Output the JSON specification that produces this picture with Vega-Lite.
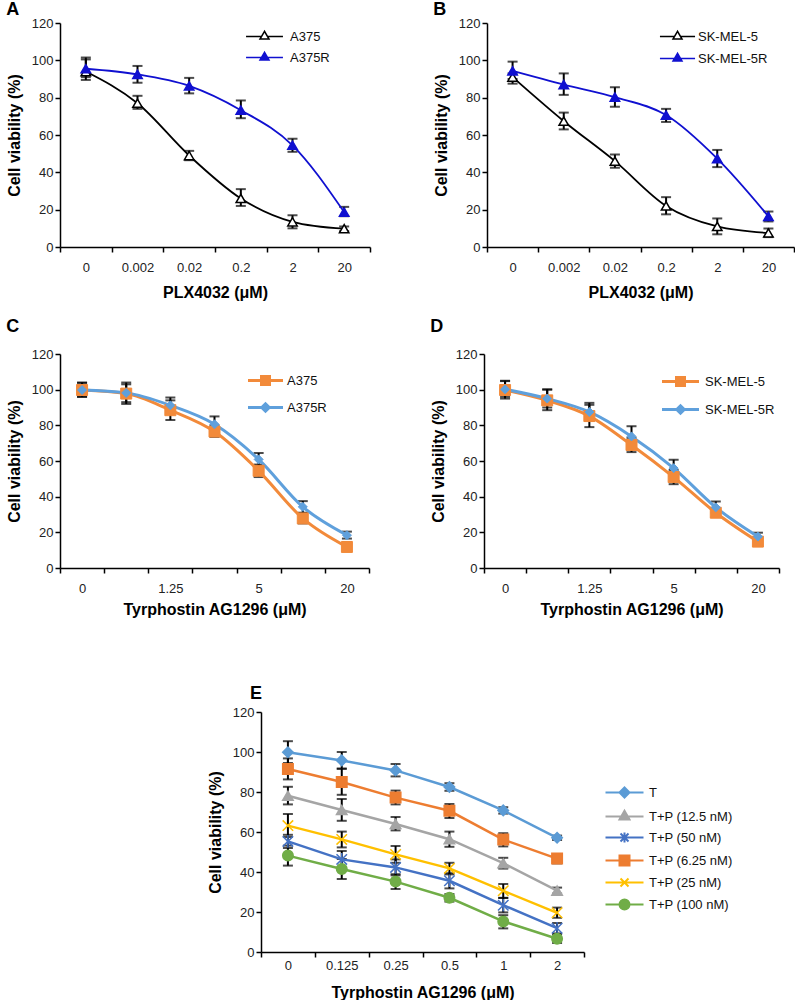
{
  "$schema": "https://vega.github.io/schema/vega-lite/v6.json",
  "padding": {"left": 6, "top": 1, "right": 0, "bottom": 0},
  "background": "white",
  "config": {
    "view": {"stroke": null},
    "font": "Liberation Sans",
    "axis": {"grid": false, "domainColor": "black", "domainWidth": 1.5, "tickColor": "black", "tickWidth": 1.5, "tickSize": 5, "labelFont": "Liberation Sans", "labelFontSize": 13, "labelColor": "#222", "titleFont": "Liberation Sans", "titleFontSize": 16, "titleFontWeight": "bold", "titleColor": "black"},
    "axisY": {"tickCount": 7, "labelPadding": 2, "titlePadding": 9},
    "legend": {"labelFont": "Liberation Sans", "labelFontSize": 13, "labelColor": "#111"},
    "title": {"font": "Liberation Sans", "fontSize": 18, "fontWeight": "bold", "color": "black", "anchor": "start", "frame": "bounds"}
  },
  "datasets": {
    "A": [
      {"dose": "0", "series": "A375", "v": 94, "lo": 89.5, "hi": 101.5},
      {"dose": "0.002", "series": "A375", "v": 77, "lo": 74, "hi": 81},
      {"dose": "0.02", "series": "A375", "v": 49, "lo": 46.5, "hi": 51.5},
      {"dose": "0.2", "series": "A375", "v": 26, "lo": 22, "hi": 31},
      {"dose": "2", "series": "A375", "v": 13.5, "lo": 10, "hi": 17},
      {"dose": "20", "series": "A375", "v": 9.8, "lo": 8.5, "hi": 11},
      {"dose": "0", "series": "A375R", "v": 95.5, "lo": 91, "hi": 100.5},
      {"dose": "0.002", "series": "A375R", "v": 92.5, "lo": 88, "hi": 97},
      {"dose": "0.02", "series": "A375R", "v": 86.3, "lo": 82.3, "hi": 90.6},
      {"dose": "0.2", "series": "A375R", "v": 73.3, "lo": 69, "hi": 78.5},
      {"dose": "2", "series": "A375R", "v": 54.5, "lo": 51, "hi": 58},
      {"dose": "20", "series": "A375R", "v": 18.7, "lo": 16.5, "hi": 21.5}
    ],
    "B": [
      {"dose": "0", "series": "SK-MEL-5", "v": 91, "lo": 87.5, "hi": 93},
      {"dose": "0.002", "series": "SK-MEL-5", "v": 67.4, "lo": 63, "hi": 72},
      {"dose": "0.02", "series": "SK-MEL-5", "v": 46, "lo": 42.5, "hi": 49.5},
      {"dose": "0.2", "series": "SK-MEL-5", "v": 22, "lo": 17.5, "hi": 26.7},
      {"dose": "2", "series": "SK-MEL-5", "v": 11, "lo": 6.8, "hi": 15.3},
      {"dose": "20", "series": "SK-MEL-5", "v": 7.5, "lo": 5.3, "hi": 9.9},
      {"dose": "0", "series": "SK-MEL-5R", "v": 94.3, "lo": 90, "hi": 99.3},
      {"dose": "0.002", "series": "SK-MEL-5R", "v": 87, "lo": 81.5, "hi": 93},
      {"dose": "0.02", "series": "SK-MEL-5R", "v": 80.3, "lo": 75.2, "hi": 85.6},
      {"dose": "0.2", "series": "SK-MEL-5R", "v": 70.7, "lo": 67, "hi": 74},
      {"dose": "2", "series": "SK-MEL-5R", "v": 47.3, "lo": 42.8, "hi": 52},
      {"dose": "20", "series": "SK-MEL-5R", "v": 16.4, "lo": 13.7, "hi": 19}
    ],
    "C": [
      {"dose": "0", "series": "A375", "v": 99.8, "lo": 96, "hi": 103.8},
      {"dose": "0.625", "series": "A375", "v": 97.8, "lo": 92, "hi": 103},
      {"dose": "1.25", "series": "A375", "v": 88.5, "lo": 83, "hi": 94},
      {"dose": "2.5", "series": "A375", "v": 76.5, "lo": 73.5, "hi": 80},
      {"dose": "5", "series": "A375", "v": 54.5, "lo": 51, "hi": 58},
      {"dose": "10", "series": "A375", "v": 27.8, "lo": 25, "hi": 30.5},
      {"dose": "20", "series": "A375", "v": 11.8, "lo": 9.5, "hi": 14.5},
      {"dose": "0", "series": "A375R", "v": 99.8, "lo": 96, "hi": 104},
      {"dose": "0.625", "series": "A375R", "v": 98.2, "lo": 93, "hi": 104},
      {"dose": "1.25", "series": "A375R", "v": 91.2, "lo": 87, "hi": 95.6},
      {"dose": "2.5", "series": "A375R", "v": 80.6, "lo": 76.5, "hi": 85},
      {"dose": "5", "series": "A375R", "v": 60.9, "lo": 57.5, "hi": 64.5},
      {"dose": "10", "series": "A375R", "v": 34.3, "lo": 31, "hi": 37.5},
      {"dose": "20", "series": "A375R", "v": 18.4, "lo": 16.5, "hi": 20.4}
    ],
    "D": [
      {"dose": "0", "series": "SK-MEL-5", "v": 99.8, "lo": 95, "hi": 104.8},
      {"dose": "0.625", "series": "SK-MEL-5", "v": 94, "lo": 88.5, "hi": 100},
      {"dose": "1.25", "series": "SK-MEL-5", "v": 85.2, "lo": 79, "hi": 91.5},
      {"dose": "2.5", "series": "SK-MEL-5", "v": 69, "lo": 65, "hi": 73},
      {"dose": "5", "series": "SK-MEL-5", "v": 51, "lo": 47, "hi": 55},
      {"dose": "10", "series": "SK-MEL-5", "v": 31, "lo": 28.6, "hi": 33.5},
      {"dose": "20", "series": "SK-MEL-5", "v": 14.8, "lo": 12.7, "hi": 17},
      {"dose": "0", "series": "SK-MEL-5R", "v": 100.2, "lo": 96, "hi": 105},
      {"dose": "0.625", "series": "SK-MEL-5R", "v": 95, "lo": 90, "hi": 100.2},
      {"dose": "1.25", "series": "SK-MEL-5R", "v": 87.5, "lo": 82.5, "hi": 92.6},
      {"dose": "2.5", "series": "SK-MEL-5R", "v": 73.8, "lo": 68.5, "hi": 79.5},
      {"dose": "5", "series": "SK-MEL-5R", "v": 56, "lo": 51.5, "hi": 60.7},
      {"dose": "10", "series": "SK-MEL-5R", "v": 34, "lo": 31, "hi": 37.3},
      {"dose": "20", "series": "SK-MEL-5R", "v": 17.6, "lo": 15.5, "hi": 19.8}
    ],
    "E": [
      {"dose": "0", "series": "T", "v": 99.9, "lo": 94.5, "hi": 105.4},
      {"dose": "0.125", "series": "T", "v": 95.8, "lo": 91.7, "hi": 100},
      {"dose": "0.25", "series": "T", "v": 90.8, "lo": 87.8, "hi": 94},
      {"dose": "0.5", "series": "T", "v": 82.5, "lo": 80.6, "hi": 84.4},
      {"dose": "1", "series": "T", "v": 70.8, "lo": 69.2, "hi": 72.4},
      {"dose": "2", "series": "T", "v": 57.1, "lo": 56, "hi": 58.2},
      {"dose": "0", "series": "T+P (6.25 nM)", "v": 91.5, "lo": 86.3, "hi": 96.8},
      {"dose": "0.125", "series": "T+P (6.25 nM)", "v": 85, "lo": 78.6, "hi": 91.6},
      {"dose": "0.25", "series": "T+P (6.25 nM)", "v": 77.2, "lo": 73.8, "hi": 80.7},
      {"dose": "0.5", "series": "T+P (6.25 nM)", "v": 70.6, "lo": 67, "hi": 74},
      {"dose": "1", "series": "T+P (6.25 nM)", "v": 56.2, "lo": 52.8, "hi": 59.4},
      {"dose": "2", "series": "T+P (6.25 nM)", "v": 46.7, "lo": 44.3, "hi": 49},
      {"dose": "0", "series": "T+P (12.5 nM)", "v": 78.1, "lo": 73.8, "hi": 82.6},
      {"dose": "0.125", "series": "T+P (12.5 nM)", "v": 71, "lo": 65.6, "hi": 76.5},
      {"dose": "0.25", "series": "T+P (12.5 nM)", "v": 64, "lo": 60.8, "hi": 67.5},
      {"dose": "0.5", "series": "T+P (12.5 nM)", "v": 56.4, "lo": 52.6, "hi": 60.2},
      {"dose": "1", "series": "T+P (12.5 nM)", "v": 44.4, "lo": 41.7, "hi": 47.1},
      {"dose": "2", "series": "T+P (12.5 nM)", "v": 30.7, "lo": 29.2, "hi": 32.2},
      {"dose": "0", "series": "T+P (25 nM)", "v": 63.2, "lo": 57.5, "hi": 69},
      {"dose": "0.125", "series": "T+P (25 nM)", "v": 56.3, "lo": 52.3, "hi": 60.2},
      {"dose": "0.25", "series": "T+P (25 nM)", "v": 48.8, "lo": 44.6, "hi": 53},
      {"dose": "0.5", "series": "T+P (25 nM)", "v": 41.8, "lo": 38.8, "hi": 44.6},
      {"dose": "1", "series": "T+P (25 nM)", "v": 30.6, "lo": 27.1, "hi": 34},
      {"dose": "2", "series": "T+P (25 nM)", "v": 19.6, "lo": 17.1, "hi": 22.2},
      {"dose": "0", "series": "T+P (50 nM)", "v": 55.3, "lo": 52, "hi": 58.6},
      {"dose": "0.125", "series": "T+P (50 nM)", "v": 46.3, "lo": 42.2, "hi": 50.5},
      {"dose": "0.25", "series": "T+P (50 nM)", "v": 42.3, "lo": 38.3, "hi": 46.3},
      {"dose": "0.5", "series": "T+P (50 nM)", "v": 35.6, "lo": 31.8, "hi": 39.4},
      {"dose": "1", "series": "T+P (50 nM)", "v": 23.4, "lo": 19.8, "hi": 27},
      {"dose": "2", "series": "T+P (50 nM)", "v": 11.9, "lo": 9.3, "hi": 14.5},
      {"dose": "0", "series": "T+P (100 nM)", "v": 48.2, "lo": 43.2, "hi": 53.2},
      {"dose": "0.125", "series": "T+P (100 nM)", "v": 41.5, "lo": 36.5, "hi": 46.5},
      {"dose": "0.25", "series": "T+P (100 nM)", "v": 35.2, "lo": 31.5, "hi": 38.9},
      {"dose": "0.5", "series": "T+P (100 nM)", "v": 27.1, "lo": 25.2, "hi": 29},
      {"dose": "1", "series": "T+P (100 nM)", "v": 15.3, "lo": 11.8, "hi": 18.4},
      {"dose": "2", "series": "T+P (100 nM)", "v": 6.6, "lo": 4.5, "hi": 8.8}
    ],
    "spacer": [{"s": 1}]
  },
  "resolve": {
    "scale": {"x": "independent", "y": "independent", "color": "independent", "fill": "independent", "stroke": "independent", "shape": "independent"},
    "legend": {"color": "independent", "fill": "independent", "stroke": "independent", "shape": "independent"}
  },
  "vconcat": [
    {
      "resolve": {
        "scale": {"x": "independent", "y": "independent", "color": "independent", "fill": "independent", "stroke": "independent", "shape": "independent"},
        "legend": {"color": "independent", "fill": "independent", "stroke": "independent", "shape": "independent"}
      },
      "vconcat": [
        {
          "resolve": {
            "scale": {"x": "independent", "y": "independent", "color": "independent", "fill": "independent", "stroke": "independent", "shape": "independent"},
            "legend": {"color": "independent", "fill": "independent", "stroke": "independent", "shape": "independent"}
          },
          "hconcat": [
            {
              "title": {"text": "A", "offset": -2},
              "width": 310, "height": 224,
              "data": {"name": "A"},
              "encoding": {
                "x": {"field": "dose", "type": "ordinal", "scale": {"type": "band", "domain": ["0", "0.002", "0.02", "0.2", "2", "20"], "paddingInner": 0, "paddingOuter": 0}, "axis": {"title": "PLX4032 (μM)", "labelAngle": 0, "tickBand": "extent", "labelPadding": 9, "titlePadding": 10}}
              },
              "layer": [
                {"mark": {"type": "rule", "color": "black", "strokeWidth": 2}, "encoding": {"y": {"field": "lo", "type": "quantitative", "title": "Cell viability (%)", "scale": {"domain": [0, 120], "nice": false}}, "y2": {"field": "hi"}}},
                {"mark": {"type": "tick", "color": "black", "thickness": 2, "size": 10, "orient": "horizontal"}, "encoding": {"y": {"field": "lo", "type": "quantitative", "title": "Cell viability (%)"}}},
                {"mark": {"type": "tick", "color": "black", "thickness": 2, "size": 10, "orient": "horizontal"}, "encoding": {"y": {"field": "hi", "type": "quantitative", "title": "Cell viability (%)"}}},
                {"mark": {"type": "line", "interpolate": "monotone", "strokeWidth": 1.8}, "encoding": {"y": {"field": "v", "type": "quantitative", "title": "Cell viability (%)"}, "color": {"field": "series", "type": "nominal", "scale": {"domain": ["A375R", "A375"], "range": ["#1010d0", "black"]}, "legend": null}}},
                {"mark": {"type": "point", "filled": true, "size": 90, "strokeWidth": 1.5, "opacity": 1}, "encoding": {
                  "y": {"field": "v", "type": "quantitative", "title": "Cell viability (%)"},
                  "shape": {"field": "series", "type": "nominal", "scale": {"domain": ["A375R", "A375"], "range": ["triangle-up", "triangle-up"]}, "legend": null},
                  "fill": {"field": "series", "type": "nominal", "scale": {"domain": ["A375", "A375R"], "range": ["white", "#1010d0"]}, "legend": {"orient": "none", "legendX": 198, "legendY": 7, "title": null, "symbolSize": 81, "symbolStrokeWidth": 1.5, "labelOffset": 19, "rowPadding": 5, "encoding": {"symbols": {"shape": {"value": {"expr": "datum.value === 'A375' ? 'M-4.1,0H-0.67M0.67,0H4.1M0,-1.15L-1,0.58L1,0.58Z' : 'M-4.1,0H4.1M0,-1.15L-1,0.58L1,0.58Z'"}}}}}},
                  "stroke": {"field": "series", "type": "nominal", "scale": {"domain": ["A375", "A375R"], "range": ["black", "#1010d0"]}, "legend": {"orient": "none", "legendX": 198, "legendY": 7, "title": null, "symbolSize": 81, "symbolStrokeWidth": 1.5, "labelOffset": 19, "rowPadding": 5, "encoding": {"symbols": {"shape": {"value": {"expr": "datum.value === 'A375' ? 'M-4.1,0H-0.67M0.67,0H4.1M0,-1.15L-1,0.58L1,0.58Z' : 'M-4.1,0H4.1M0,-1.15L-1,0.58L1,0.58Z'"}}}}}}
                }}
              ]
            },
            {
              "title": {"text": "B", "offset": -2},
              "width": 307, "height": 224,
              "data": {"name": "B"},
              "encoding": {
                "x": {"field": "dose", "type": "ordinal", "scale": {"type": "band", "domain": ["0", "0.002", "0.02", "0.2", "2", "20"], "paddingInner": 0, "paddingOuter": 0}, "axis": {"title": "PLX4032 (μM)", "labelAngle": 0, "tickBand": "extent", "labelPadding": 9, "titlePadding": 10}}
              },
              "layer": [
                {"mark": {"type": "rule", "color": "black", "strokeWidth": 2}, "encoding": {"y": {"field": "lo", "type": "quantitative", "title": "Cell viability (%)", "scale": {"domain": [0, 120], "nice": false}}, "y2": {"field": "hi"}}},
                {"mark": {"type": "tick", "color": "black", "thickness": 2, "size": 10, "orient": "horizontal"}, "encoding": {"y": {"field": "lo", "type": "quantitative", "title": "Cell viability (%)"}}},
                {"mark": {"type": "tick", "color": "black", "thickness": 2, "size": 10, "orient": "horizontal"}, "encoding": {"y": {"field": "hi", "type": "quantitative", "title": "Cell viability (%)"}}},
                {"mark": {"type": "line", "interpolate": "monotone", "strokeWidth": 1.8}, "encoding": {"y": {"field": "v", "type": "quantitative", "title": "Cell viability (%)"}, "color": {"field": "series", "type": "nominal", "scale": {"domain": ["SK-MEL-5R", "SK-MEL-5"], "range": ["#1010d0", "black"]}, "legend": null}}},
                {"mark": {"type": "point", "filled": true, "size": 90, "strokeWidth": 1.5, "opacity": 1}, "encoding": {
                  "y": {"field": "v", "type": "quantitative", "title": "Cell viability (%)"},
                  "shape": {"field": "series", "type": "nominal", "scale": {"domain": ["SK-MEL-5R", "SK-MEL-5"], "range": ["triangle-up", "triangle-up"]}, "legend": null},
                  "fill": {"field": "series", "type": "nominal", "scale": {"domain": ["SK-MEL-5", "SK-MEL-5R"], "range": ["white", "#1010d0"]}, "legend": {"orient": "none", "legendX": 184, "legendY": 7, "title": null, "symbolSize": 81, "symbolStrokeWidth": 1.5, "labelOffset": 14, "rowPadding": 6, "encoding": {"symbols": {"shape": {"value": {"expr": "datum.value === 'SK-MEL-5' ? 'M-3.9,0H-0.67M0.67,0H3.9M0,-1.15L-1,0.58L1,0.58Z' : 'M-3.9,0H3.9M0,-1.15L-1,0.58L1,0.58Z'"}}}}}},
                  "stroke": {"field": "series", "type": "nominal", "scale": {"domain": ["SK-MEL-5", "SK-MEL-5R"], "range": ["black", "#1010d0"]}, "legend": {"orient": "none", "legendX": 184, "legendY": 7, "title": null, "symbolSize": 81, "symbolStrokeWidth": 1.5, "labelOffset": 14, "rowPadding": 6, "encoding": {"symbols": {"shape": {"value": {"expr": "datum.value === 'SK-MEL-5' ? 'M-3.9,0H-0.67M0.67,0H3.9M0,-1.15L-1,0.58L1,0.58Z' : 'M-3.9,0H3.9M0,-1.15L-1,0.58L1,0.58Z'"}}}}}}
                }}
              ]
            }
          ],
          "spacing": 62
        },
        {
          "resolve": {
            "scale": {"x": "independent", "y": "independent", "color": "independent", "fill": "independent", "stroke": "independent", "shape": "independent"},
            "legend": {"color": "independent", "fill": "independent", "stroke": "independent", "shape": "independent"}
          },
          "hconcat": [
            {
              "title": {"text": "C", "offset": 12},
              "width": 309, "height": 214,
              "data": {"name": "C"},
              "encoding": {
                "x": {"field": "dose", "type": "ordinal", "scale": {"type": "band", "domain": ["0", "0.625", "1.25", "2.5", "5", "10", "20"], "paddingInner": 0, "paddingOuter": 0}, "axis": {"title": "Tyrphostin AG1296 (μM)", "labelAngle": 0, "tickBand": "extent", "labelPadding": 9, "titlePadding": 6, "labelExpr": "indexof(['0','1.25','5','20'], datum.value) >= 0 ? datum.label : ''"}}
              },
              "layer": [
                {"mark": {"type": "rule", "color": "black", "strokeWidth": 2}, "encoding": {"y": {"field": "lo", "type": "quantitative", "title": "Cell viability (%)", "scale": {"domain": [0, 120], "nice": false}}, "y2": {"field": "hi"}}},
                {"mark": {"type": "tick", "color": "black", "thickness": 2, "size": 10, "orient": "horizontal"}, "encoding": {"y": {"field": "lo", "type": "quantitative", "title": "Cell viability (%)"}}},
                {"mark": {"type": "tick", "color": "black", "thickness": 2, "size": 10, "orient": "horizontal"}, "encoding": {"y": {"field": "hi", "type": "quantitative", "title": "Cell viability (%)"}}},
                {"mark": {"type": "line", "interpolate": "monotone", "strokeWidth": 3}, "encoding": {"y": {"field": "v", "type": "quantitative", "title": "Cell viability (%)"}, "color": {"field": "series", "type": "nominal", "scale": {"domain": ["A375R", "A375"], "range": ["#5fa0dc", "#f28a3a"]}, "legend": null}}},
                {"mark": {"type": "point", "filled": true, "size": 100, "strokeWidth": 1, "opacity": 1}, "encoding": {
                  "y": {"field": "v", "type": "quantitative", "title": "Cell viability (%)"},
                  "shape": {"field": "series", "type": "nominal", "scale": {"domain": ["A375R", "A375"], "range": ["M-0.9,0L0,-0.9L0.9,0L0,0.9Z", "M-1.1,-1.1H1.1V1.1H-1.1Z"]}, "legend": null},
                  "fill": {"field": "series", "type": "nominal", "scale": {"domain": ["A375", "A375R"], "range": ["#f28a3a", "#5fa0dc"]}, "legend": {"orient": "none", "legendX": 199, "legendY": 20, "title": null, "symbolSize": 100, "symbolStrokeWidth": 3, "labelOffset": 15, "rowPadding": 6, "encoding": {"symbols": {"shape": {"value": {"expr": "datum.value === 'A375' ? 'M-3.5,0H3.5M-0.8,-0.8H0.8V0.8H-0.8Z' : 'M-3.5,0H3.5M-0.75,0L0,-0.75L0.75,0L0,0.75Z'"}}}}}},
                  "stroke": {"field": "series", "type": "nominal", "scale": {"domain": ["A375", "A375R"], "range": ["#f28a3a", "#5fa0dc"]}, "legend": {"orient": "none", "legendX": 199, "legendY": 20, "title": null, "symbolSize": 100, "symbolStrokeWidth": 3, "labelOffset": 15, "rowPadding": 6, "encoding": {"symbols": {"shape": {"value": {"expr": "datum.value === 'A375' ? 'M-3.5,0H3.5M-0.8,-0.8H0.8V0.8H-0.8Z' : 'M-3.5,0H3.5M-0.75,0L0,-0.75L0.75,0L0,0.75Z'"}}}}}}
                }}
              ]
            },
            {
              "title": {"text": "D", "offset": 12},
              "width": 295, "height": 214,
              "data": {"name": "D"},
              "encoding": {
                "x": {"field": "dose", "type": "ordinal", "scale": {"type": "band", "domain": ["0", "0.625", "1.25", "2.5", "5", "10", "20"], "paddingInner": 0, "paddingOuter": 0}, "axis": {"title": "Tyrphostin AG1296 (μM)", "labelAngle": 0, "tickBand": "extent", "labelPadding": 9, "titlePadding": 6, "labelExpr": "indexof(['0','1.25','5','20'], datum.value) >= 0 ? datum.label : ''"}}
              },
              "layer": [
                {"mark": {"type": "rule", "color": "black", "strokeWidth": 2}, "encoding": {"y": {"field": "lo", "type": "quantitative", "title": "Cell viability (%)", "scale": {"domain": [0, 120], "nice": false}}, "y2": {"field": "hi"}}},
                {"mark": {"type": "tick", "color": "black", "thickness": 2, "size": 10, "orient": "horizontal"}, "encoding": {"y": {"field": "lo", "type": "quantitative", "title": "Cell viability (%)"}}},
                {"mark": {"type": "tick", "color": "black", "thickness": 2, "size": 10, "orient": "horizontal"}, "encoding": {"y": {"field": "hi", "type": "quantitative", "title": "Cell viability (%)"}}},
                {"mark": {"type": "line", "interpolate": "monotone", "strokeWidth": 3}, "encoding": {"y": {"field": "v", "type": "quantitative", "title": "Cell viability (%)"}, "color": {"field": "series", "type": "nominal", "scale": {"domain": ["SK-MEL-5R", "SK-MEL-5"], "range": ["#5fa0dc", "#f28a3a"]}, "legend": null}}},
                {"mark": {"type": "point", "filled": true, "size": 100, "strokeWidth": 1, "opacity": 1}, "encoding": {
                  "y": {"field": "v", "type": "quantitative", "title": "Cell viability (%)"},
                  "shape": {"field": "series", "type": "nominal", "scale": {"domain": ["SK-MEL-5R", "SK-MEL-5"], "range": ["M-0.9,0L0,-0.9L0.9,0L0,0.9Z", "M-1.1,-1.1H1.1V1.1H-1.1Z"]}, "legend": null},
                  "fill": {"field": "series", "type": "nominal", "scale": {"domain": ["SK-MEL-5", "SK-MEL-5R"], "range": ["#f28a3a", "#5fa0dc"]}, "legend": {"orient": "none", "legendX": 190, "legendY": 21, "title": null, "symbolSize": 100, "symbolStrokeWidth": 3, "labelOffset": 18, "rowPadding": 7, "encoding": {"symbols": {"shape": {"value": {"expr": "datum.value === 'SK-MEL-5' ? 'M-3.7,0H3.7M-0.8,-0.8H0.8V0.8H-0.8Z' : 'M-3.7,0H3.7M-0.75,0L0,-0.75L0.75,0L0,0.75Z'"}}}}}},
                  "stroke": {"field": "series", "type": "nominal", "scale": {"domain": ["SK-MEL-5", "SK-MEL-5R"], "range": ["#f28a3a", "#5fa0dc"]}, "legend": {"orient": "none", "legendX": 190, "legendY": 21, "title": null, "symbolSize": 100, "symbolStrokeWidth": 3, "labelOffset": 18, "rowPadding": 7, "encoding": {"symbols": {"shape": {"value": {"expr": "datum.value === 'SK-MEL-5' ? 'M-3.7,0H3.7M-0.8,-0.8H0.8V0.8H-0.8Z' : 'M-3.7,0H3.7M-0.75,0L0,-0.75L0.75,0L0,0.75Z'"}}}}}}
                }}
              ]
            }
          ],
          "spacing": 60
        }
      ],
      "spacing": 18
    },
    {
      "resolve": {
        "scale": {"x": "independent", "y": "independent", "color": "independent", "fill": "independent", "stroke": "independent", "shape": "independent"},
        "legend": {"color": "independent", "fill": "independent", "stroke": "independent", "shape": "independent"}
      },
      "hconcat": [
        {"width": 127, "height": 10, "data": {"name": "spacer"}, "mark": {"type": "point", "opacity": 0}},
        {
          "title": {"text": "E", "offset": 3, "frame": "group", "dx": -11},
          "width": 323, "height": 240,
          "data": {"name": "E"},
          "encoding": {
            "x": {"field": "dose", "type": "ordinal", "scale": {"type": "band", "domain": ["0", "0.125", "0.25", "0.5", "1", "2"], "paddingInner": 0, "paddingOuter": 0}, "axis": {"title": "Tyrphostin AG1296 (μM)", "labelAngle": 0, "tickBand": "extent", "labelPadding": 2, "titlePadding": 12}}
          },
          "layer": [
            {"mark": {"type": "rule", "color": "black", "strokeWidth": 2}, "encoding": {"y": {"field": "lo", "type": "quantitative", "title": "Cell viability (%)", "scale": {"domain": [0, 120], "nice": false}}, "y2": {"field": "hi"}}},
            {"mark": {"type": "tick", "color": "black", "thickness": 2, "size": 10, "orient": "horizontal"}, "encoding": {"y": {"field": "lo", "type": "quantitative", "title": "Cell viability (%)"}}},
            {"mark": {"type": "tick", "color": "black", "thickness": 2, "size": 10, "orient": "horizontal"}, "encoding": {"y": {"field": "hi", "type": "quantitative", "title": "Cell viability (%)"}}},
            {"mark": {"type": "line", "strokeWidth": 2.5}, "encoding": {"y": {"field": "v", "type": "quantitative", "title": "Cell viability (%)"}, "color": {"field": "series", "type": "nominal", "scale": {"domain": ["T+P (100 nM)", "T+P (25 nM)", "T+P (6.25 nM)", "T+P (50 nM)", "T+P (12.5 nM)", "T"], "range": ["#70ad47", "#ffc000", "#ed7d31", "#4472c4", "#a5a5a5", "#5b9bd5"]}, "legend": null}}},
            {"mark": {"type": "point", "filled": true, "size": 110, "strokeWidth": 1.5, "opacity": 1}, "encoding": {
              "y": {"field": "v", "type": "quantitative", "title": "Cell viability (%)"},
              "shape": {"field": "series", "type": "nominal", "scale": {"domain": ["T+P (100 nM)", "T+P (25 nM)", "T+P (6.25 nM)", "T+P (50 nM)", "T+P (12.5 nM)", "T"], "range": ["circle", "M-1,-1L1,1M-1,1L1,-1", "square", "M-1,-1L1,1M-1,1L1,-1M0,-1.2V1.2", "triangle-up", "diamond"]}, "legend": null},
              "fill": {"field": "series", "type": "nominal", "scale": {"domain": ["T", "T+P (12.5 nM)", "T+P (50 nM)", "T+P (6.25 nM)", "T+P (25 nM)", "T+P (100 nM)"], "range": ["#5b9bd5", "#a5a5a5", "#4472c4", "#ed7d31", "#ffc000", "#70ad47"]}, "legend": {"orient": "none", "legendX": 357, "legendY": 74, "title": null, "symbolSize": 100, "symbolStrokeWidth": 2, "labelOffset": 18, "rowPadding": 4, "encoding": {"symbols": {"shape": {"value": {"expr": "datum.value === 'T' ? 'M-3.8,0H3.8M-1,0L0,-1L1,0L0,1Z' : datum.value === 'T+P (12.5 nM)' ? 'M-3.8,0H3.8M0,-1.15L-1,0.58L1,0.58Z' : datum.value === 'T+P (50 nM)' ? 'M-3.8,0H3.8M-0.8,-0.8L0.8,0.8M-0.8,0.8L0.8,-0.8M0,-1V1' : datum.value === 'T+P (6.25 nM)' ? 'M-3.8,0H3.8M-1,-1H1V1H-1Z' : datum.value === 'T+P (25 nM)' ? 'M-3.8,0H3.8M-0.8,-0.8L0.8,0.8M-0.8,0.8L0.8,-0.8' : 'M-3.8,0H3.8M1,0A1,1,0,1,1,-1,0A1,1,0,1,1,1,0Z'"}}}}}},
              "stroke": {"field": "series", "type": "nominal", "scale": {"domain": ["T", "T+P (12.5 nM)", "T+P (50 nM)", "T+P (6.25 nM)", "T+P (25 nM)", "T+P (100 nM)"], "range": ["#5b9bd5", "#a5a5a5", "#4472c4", "#ed7d31", "#ffc000", "#70ad47"]}, "legend": {"orient": "none", "legendX": 357, "legendY": 74, "title": null, "symbolSize": 100, "symbolStrokeWidth": 2, "labelOffset": 18, "rowPadding": 4, "encoding": {"symbols": {"shape": {"value": {"expr": "datum.value === 'T' ? 'M-3.8,0H3.8M-1,0L0,-1L1,0L0,1Z' : datum.value === 'T+P (12.5 nM)' ? 'M-3.8,0H3.8M0,-1.15L-1,0.58L1,0.58Z' : datum.value === 'T+P (50 nM)' ? 'M-3.8,0H3.8M-0.8,-0.8L0.8,0.8M-0.8,0.8L0.8,-0.8M0,-1V1' : datum.value === 'T+P (6.25 nM)' ? 'M-3.8,0H3.8M-1,-1H1V1H-1Z' : datum.value === 'T+P (25 nM)' ? 'M-3.8,0H3.8M-0.8,-0.8L0.8,0.8M-0.8,0.8L0.8,-0.8' : 'M-3.8,0H3.8M1,0A1,1,0,1,1,-1,0A1,1,0,1,1,1,0Z'"}}}}}}
            }}
          ]
        }
      ],
      "spacing": 20
    }
  ],
  "spacing": 68
}
